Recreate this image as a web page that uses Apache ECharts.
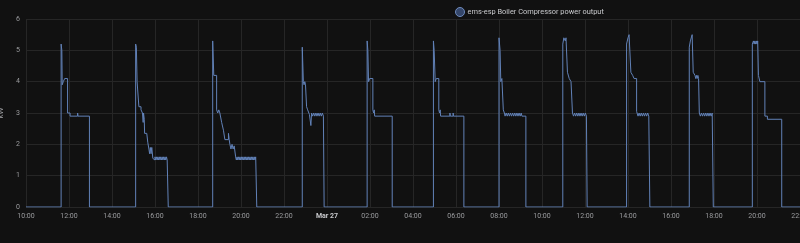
<!DOCTYPE html>
<html>
<head>
<meta charset="utf-8">
<script src="https://cdn.jsdelivr.net/npm/echarts@6/dist/echarts.min.js"></script>
<style>
html,body{margin:0;padding:0;background:#111111;}
#c{width:800px;height:243px;}
</style>
</head>
<body>
<div id="c"></div>
<script>
// Series name
var seriesName = 'ems-esp Boiler Compressor power output';
// Axis range / ticks
var xStart = '26 10:00';
var xEnd = '27 22:00';
var yTicks = [0, 1, 2, 3, 4, 5, 6];

// Data: [day hh:mm, kW], step-after changes
var idle0 = [['26 10:00', 0]];
var cycle1 = [['26 11:38',5.2],['26 11:40',5.0],['26 11:41',3.9],['26 11:44',4.0],['26 11:48',4.1],['26 11:56',3.0],['26 12:03',2.9],['26 12:24',3.0],['26 12:25',2.9],['26 12:57',0]];
var cycle2 = [['26 15:06',5.2],['26 15:08',5.1],['26 15:10',4.0],['26 15:15',3.2],['26 15:21',3.1],['26 15:25',3.0],['26 15:27',2.7],['26 15:28',3.0],['26 15:30',2.8],['26 15:31',2.35],['26 15:37',2.3],['26 15:40',2.05],['26 15:43',1.85],['26 15:45',1.7],['26 15:47',1.9],['26 15:49',1.7],['26 15:51',1.9],['26 15:54',1.55],['26 15:56',1.6],['26 15:58',1.5],['26 16:00',1.6],['26 16:02',1.5],['26 16:04',1.6],['26 16:06',1.5],['26 16:08',1.6],['26 16:10',1.5],['26 16:12',1.6],['26 16:14',1.5],['26 16:16',1.6],['26 16:18',1.5],['26 16:20',1.6],['26 16:22',1.5],['26 16:24',1.6],['26 16:26',1.5],['26 16:28',1.6],['26 16:30',1.5],['26 16:32',1.6],['26 16:34',1.5],['26 16:37',0]];
var cycle3 = [['26 18:41',5.3],['26 18:44',4.2],['26 18:52',3.1],['26 18:55',3.0],['26 18:58',3.1],['26 19:01',3.0],['26 19:06',2.7],['26 19:11',2.45],['26 19:15',2.15],['26 19:25',2.35],['26 19:27',2.15],['26 19:29',2.0],['26 19:32',1.85],['26 19:35',2.0],['26 19:38',1.85],['26 19:41',1.95],['26 19:45',1.6],['26 19:47',1.5],['26 19:49',1.6],['26 19:51',1.5],['26 19:53',1.6],['26 19:55',1.5],['26 19:57',1.6],['26 19:59',1.5],['26 20:01',1.6],['26 20:03',1.5],['26 20:05',1.6],['26 20:07',1.5],['26 20:09',1.6],['26 20:11',1.5],['26 20:13',1.6],['26 20:15',1.5],['26 20:17',1.6],['26 20:19',1.5],['26 20:21',1.6],['26 20:23',1.5],['26 20:25',1.6],['26 20:27',1.5],['26 20:29',1.6],['26 20:31',1.5],['26 20:33',1.6],['26 20:35',1.5],['26 20:37',1.6],['26 20:39',1.5],['26 20:41',1.6],['26 20:44',0]];
var cycle4 = [['26 22:51',5.1],['26 22:54',4.0],['26 22:56',3.9],['26 22:58',4.0],['26 23:00',3.9],['26 23:03',3.2],['26 23:06',3.1],['26 23:11',2.95],['26 23:15',2.6],['26 23:17',3.0],['26 23:20',2.9],['26 23:23',3.0],['26 23:26',2.9],['26 23:29',3.0],['26 23:32',2.9],['26 23:35',3.0],['26 23:38',2.9],['26 23:41',3.0],['26 23:44',2.9],['26 23:47',3.0],['26 23:50',2.9],['26 23:52',0]];
var cycle5 = [['27 01:52',5.3],['27 01:54',5.0],['27 01:56',4.0],['27 01:59',4.1],['27 02:08',3.1],['27 02:10',3.0],['27 02:12',3.1],['27 02:13',2.9],['27 03:02',0]];
var cycle6 = [['27 04:57',5.3],['27 04:59',5.0],['27 05:02',4.0],['27 05:05',4.1],['27 05:12',3.1],['27 05:14',3.0],['27 05:16',3.1],['27 05:17',2.9],['27 05:43',3.0],['27 05:44',2.9],['27 05:52',3.0],['27 05:53',2.9],['27 06:22',0]];
var cycle7 = [['27 08:00',5.4],['27 08:03',5.0],['27 08:05',4.0],['27 08:08',4.1],['27 08:12',3.1],['27 08:15',3.0],['27 08:17',2.9],['27 08:20',3.0],['27 08:23',2.9],['27 08:26',3.0],['27 08:29',2.9],['27 08:32',3.0],['27 08:35',2.9],['27 08:38',3.0],['27 08:41',2.9],['27 08:44',3.0],['27 08:47',2.9],['27 08:50',3.0],['27 08:53',2.9],['27 08:56',3.0],['27 08:59',2.9],['27 09:02',3.0],['27 09:04',2.9],['27 09:15',0]];
var cycle8 = [['27 10:58',5.2],['27 11:01',5.4],['27 11:05',5.3],['27 11:07',5.4],['27 11:11',4.3],['27 11:16',4.1],['27 11:21',4.0],['27 11:25',3.0],['27 11:28',2.9],['27 11:31',3.0],['27 11:34',2.9],['27 11:37',3.0],['27 11:40',2.9],['27 11:43',3.0],['27 11:46',2.9],['27 11:49',3.0],['27 11:52',2.9],['27 11:55',3.0],['27 11:58',2.9],['27 12:01',3.0],['27 12:04',2.9],['27 12:06',0]];
var cycle9 = [['27 13:56',5.2],['27 14:00',5.4],['27 14:03',5.5],['27 14:08',4.3],['27 14:13',4.2],['27 14:17',4.1],['27 14:24',3.05],['27 14:28',2.9],['27 14:31',3.0],['27 14:34',2.9],['27 14:37',3.0],['27 14:40',2.9],['27 14:43',3.0],['27 14:46',2.9],['27 14:49',3.0],['27 14:52',2.9],['27 14:55',3.0],['27 14:58',2.9],['27 15:01',0]];
var cycle10 = [['27 16:51',5.1],['27 16:54',5.3],['27 16:59',5.5],['27 17:02',4.3],['27 17:07',4.2],['27 17:09',4.1],['27 17:11',4.2],['27 17:13',4.1],['27 17:15',4.2],['27 17:17',4.1],['27 17:19',3.0],['27 17:22',2.9],['27 17:25',3.0],['27 17:28',2.9],['27 17:31',3.0],['27 17:34',2.9],['27 17:37',3.0],['27 17:40',2.9],['27 17:43',3.0],['27 17:46',2.9],['27 17:49',3.0],['27 17:52',2.9],['27 17:55',3.0],['27 17:58',0]];
var cycle11 = [['27 19:47',5.2],['27 19:50',5.3],['27 19:52',5.2],['27 19:54',5.3],['27 19:56',5.2],['27 19:58',5.3],['27 20:00',5.2],['27 20:02',5.3],['27 20:04',4.2],['27 20:08',4.0],['27 20:22',2.9],['27 20:29',2.8],['27 21:09',0]];
var idleEnd = [['27 22:00', 0]];

// minutes since Mar 26 00:00
function toMin(s) {
  var d = parseInt(s.slice(0, 2), 10);
  var h = parseInt(s.slice(3, 5), 10);
  var m = parseInt(s.slice(6, 8), 10);
  return (d - 26) * 1440 + h * 60 + m;
}
function pad(n) { return (n < 10 ? '0' : '') + n; }

var raw = [].concat(idle0, cycle1, cycle2, cycle3, cycle4, cycle5, cycle6, cycle7, cycle8, cycle9, cycle10, cycle11, idleEnd);
var seriesData = raw.map(function (p) { return [toMin(p[0]), p[1]]; });

var chart = echarts.init(document.getElementById('c'), null, { renderer: 'canvas' });
var labelColor = '#9b9c9f';
chart.setOption({
  backgroundColor: '#111111',
  animation: false,
  textStyle: { fontFamily: 'Roboto, "Liberation Sans", sans-serif' },
  legend: {
    left: 450,
    top: 2,
    icon: 'circle',
    itemWidth: 9,
    itemHeight: 9,
    textStyle: { color: '#c8c9cc', fontSize: 7.4, padding: [0, 0, 0, -2] },
    data: [{ name: seriesName, itemStyle: { color: '#34466a', borderColor: '#6f8bbd', borderWidth: 1 } }]
  },
  grid: { left: 26, right: 0, top: 19, bottom: 36, containLabel: false, outerBoundsMode: 'none' },
  xAxis: {
    type: 'value',
    min: toMin(xStart),
    max: toMin(xEnd),
    interval: 120,
    axisLine: { show: false },
    axisTick: { show: false },
    splitLine: { show: true, lineStyle: { color: '#262626', width: 1 } },
    axisLabel: {
      color: labelColor,
      fontSize: 7,
      margin: 6,
      showMaxLabel: true,
      showMinLabel: true,
      hideOverlap: false,
      formatter: function (v) {
        var tot = Math.round(v);
        var day = 26 + Math.floor(tot / 1440);
        var rem = tot % 1440;
        var hh = Math.floor(rem / 60), mm = rem % 60;
        if (hh === 0 && mm === 0) return '{b|Mar ' + day + '}';
        return pad(hh) + ':' + pad(mm);
      },
      rich: { b: { fontWeight: 'bold', color: '#c8c9cc', fontSize: 7 } }
    }
  },
  yAxis: {
    type: 'value',
    min: yTicks[0],
    max: yTicks[yTicks.length - 1],
    interval: 1,
    name: 'kW',
    nameLocation: 'middle',
    nameGap: 15,
    nameRotate: 90,
    nameTextStyle: { color: labelColor, fontSize: 8 },
    axisLine: { show: false },
    axisTick: { show: false },
    splitLine: { show: true, lineStyle: { color: '#262626', width: 1 } },
    axisLabel: { color: labelColor, fontSize: 7, margin: 6 }
  },
  series: [{
    name: seriesName,
    type: 'line',
    step: 'end',
    showSymbol: false,
    symbol: 'none',
    data: seriesData,
    lineStyle: { color: '#6282b8', width: 1 },
    itemStyle: { color: '#6282b8' }
  }]
});
</script>
</body>
</html>
